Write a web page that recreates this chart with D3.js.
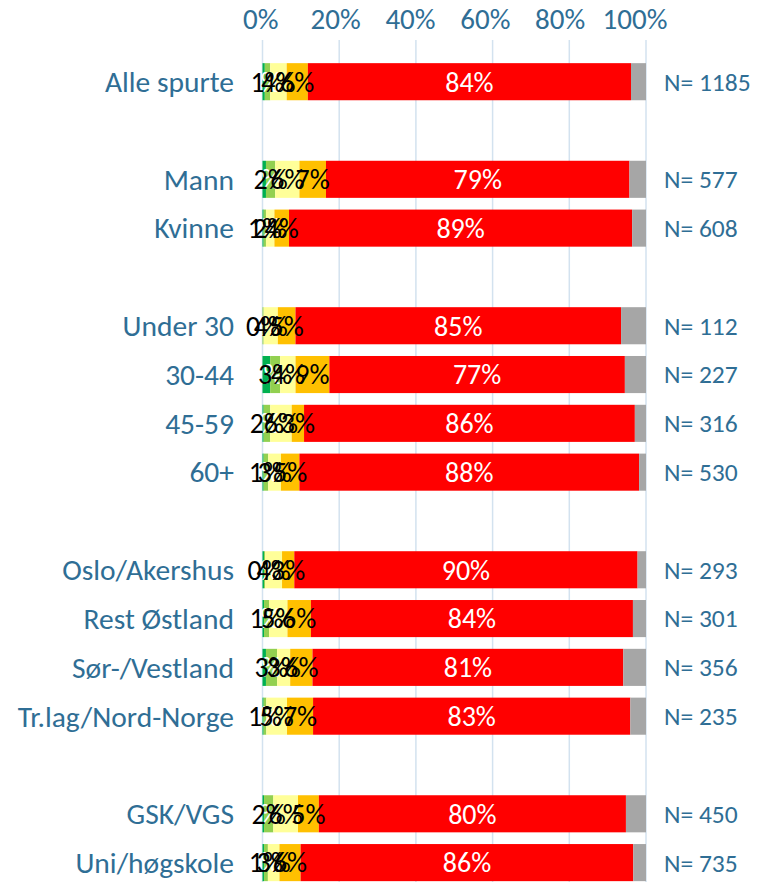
<!DOCTYPE html>
<html>
<head>
<meta charset="utf-8">
<script src="https://cdn.jsdelivr.net/npm/d3@7"></script>
<style>
	body { margin: 0; background: #fff; }
	svg { display: block; font-family: Carlito, Calibri, Lato, sans-serif; }
</style>
</head>
<body>
<svg id="chart" width="767" height="882"></svg>
<script>
// data ---------------------------------------------------------------

// null = tom rad mellom gruppene
var categories = ["Alle spurte", null, "Mann", "Kvinne", null, "Under 30", "30-44", "45-59", "60+", null,
	"Oslo/Akershus", "Rest Østland", "Sør-/Vestland", "Tr.lag/Nord-Norge", null, "GSK/VGS", "Uni/høgskole"];
var counts = [1185, 577, 608, 112, 227, 316, 530, 293, 301, 356, 235, 450, 735];

var darkGreen  = [0.6, 0.9, 0.3, 0.0, 2.0, 0.3, 0.3, 0.4, 0.4, 0.9, 0.3, 0.4, 0.4];
var lightGreen = [1.4, 2.4, 0.6, 0.3, 2.6, 1.7, 1.2, 0.3, 1.3, 2.9, 0.7, 2.4, 1.0];
var yellow     = [4.3, 6.3, 2.2, 3.7, 4.0, 5.6, 3.3, 4.4, 4.8, 3.4, 5.4, 6.4, 3.0];
var orange     = [5.5, 6.9, 3.8, 4.6, 8.8, 3.2, 4.8, 3.2, 6.1, 5.8, 6.8, 5.4, 5.5];
var red        = [84.1, 78.9, 89.3, 84.9, 76.9, 86.0, 88.4, 89.6, 83.8, 80.8, 82.8, 79.6, 86.4];
var grey       = [3.9, 4.3, 3.6, 6.5, 5.5, 2.9, 1.8, 2.2, 3.4, 5.9, 4.1, 5.2, 3.3];

var ticks = [0, 20, 40, 60, 80, 100];

// metadata
var keys = ["dg", "lg", "y", "o", "r", "g"];
var fill = { dg: "#00B050", lg: "#92D050", y: "#FFFF99", o: "#FFC000", r: "#FF0000", g: "#A6A6A6" };
var labelColor = { dg: "#ffffff", lg: "#000000", y: "#000000", o: "#000000", r: "#ffffff" };
var textBlue = "#2F6E95";

// build rows ---------------------------------------------------------

var rows = [];
var k = 0;
categories.forEach(function (c, i) {
	if (c == null) return;
	rows.push({ slot: i, name: c, n: counts[k], dg: darkGreen[k], lg: lightGreen[k], y: yellow[k],
		o: orange[k], r: red[k], g: grey[k] });
	k += 1;
});

// graph --------------------------------------------------------------

var svg = d3.select("#chart");
var width = 767, height = 882;

var x = d3.scaleLinear().domain([0, 1]).range([262.5, 646]);
// toppaksen i Excel er litt forskjøvet i forhold til rutenettet
var xTick = d3.scaleLinear().domain([0, 100]).range([260.8, 635]);

var y = d3.scaleBand()
	.domain(d3.range(categories.length))
	.range([57.3, 887])
	.paddingInner(0.24)
	.paddingOuter(0.12);

var series = d3.stack().keys(keys).offset(d3.stackOffsetExpand)(rows);

// gridlines
svg.append("g")
	.selectAll("line")
	.data(ticks)
	.enter()
	.append("line")
	.attr("x1", d => x(d / 100))
	.attr("x2", d => x(d / 100))
	.attr("y1", 40)
	.attr("y2", height)
	.attr("stroke", "#D3E2EF")
	.attr("stroke-width", 1.5);

// top axis labels
svg.append("g")
	.selectAll("text")
	.data(ticks)
	.enter()
	.append("text")
	.attr("x", d => xTick(d))
	.attr("y", 28.5)
	.attr("text-anchor", "middle")
	.attr("font-size", 29)
	.attr("fill", textBlue)
	.text(d => d + "%");

// bars
var layer = svg.append("g")
	.selectAll("g")
	.data(series)
	.enter()
	.append("g")
	.attr("fill", d => fill[d.key]);

layer.selectAll("rect")
	.data(d => d)
	.enter()
	.append("rect")
	.attr("x", d => x(d[0]))
	.attr("y", d => y(d.data.slot))
	.attr("width", d => x(d[1]) - x(d[0]))
	.attr("height", y.bandwidth());

// segment labels (not for grey)
var lbl = svg.append("g")
	.selectAll("g")
	.data(series.filter(s => s.key != "g"))
	.enter()
	.append("g")
	.attr("fill", d => labelColor[d.key]);

lbl.selectAll("text")
	.data(d => d.map(p => ({ p: p, key: d.key })))
	.enter()
	.append("text")
	.attr("x", d => (x(d.p[0]) + x(d.p[1])) / 2)
	.attr("y", d => y(d.p.data.slot) + y.bandwidth() / 2)
	.attr("dy", "0.35em")
	.attr("text-anchor", "middle")
	.attr("font-size", 28)
	.text(d => Math.round(d.p.data[d.key]) + "%");

// category labels
svg.append("g")
	.selectAll("text")
	.data(rows)
	.enter()
	.append("text")
	.attr("x", 234)
	.attr("y", d => y(d.slot) + y.bandwidth() / 2)
	.attr("dy", "0.35em")
	.attr("text-anchor", "end")
	.attr("font-size", 29.5)
	.attr("fill", textBlue)
	.text(d => d.name);

// N labels
svg.append("g")
	.selectAll("text")
	.data(rows)
	.enter()
	.append("text")
	.attr("x", 664)
	.attr("y", d => y(d.slot) + y.bandwidth() / 2)
	.attr("dy", "0.35em")
	.attr("font-size", 25.5)
	.attr("fill", textBlue)
	.text(d => "N= " + d.n);
</script>
</body>
</html>
